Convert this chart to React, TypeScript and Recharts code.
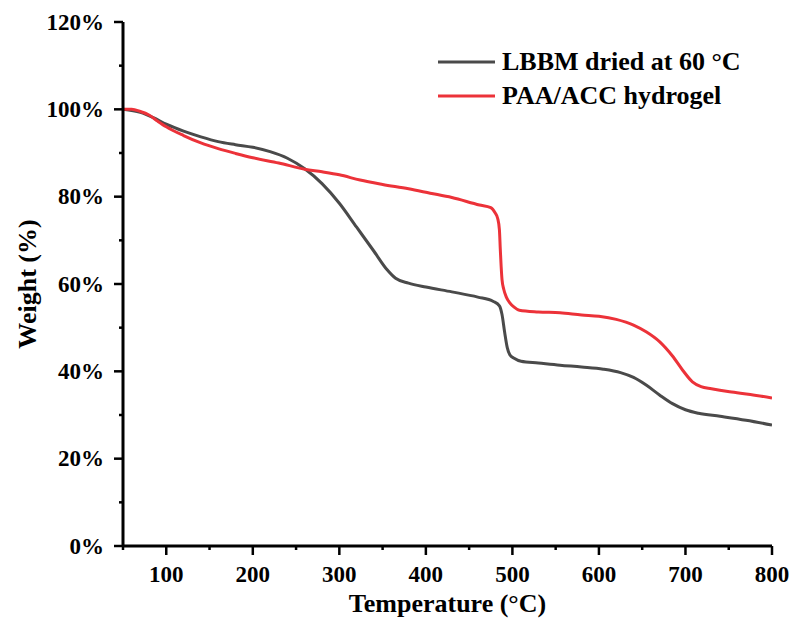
import { LineChart, Line, XAxis, YAxis, Legend } from 'recharts';

const lbbmTemp = [50, 70, 85, 100, 120, 140, 160, 180, 200, 220, 240, 260, 280, 300, 320, 340, 355, 365, 380, 400, 430, 460, 478, 485, 488, 491, 494, 497, 502, 510, 530, 555, 580, 605, 625, 640, 655, 670, 685, 700, 715, 740, 770, 800];
const lbbmWeight = [100, 99.3, 98.1, 96.6, 95, 93.7, 92.6, 91.9, 91.3, 90.3, 88.8, 86.4, 83, 78.5, 73, 67.5, 63.3, 61.3, 60.2, 59.3, 58.2, 57, 56, 55, 53, 49, 45.5, 43.8, 43, 42.3, 41.9, 41.4, 41, 40.5, 39.7, 38.6, 36.8, 34.6, 32.6, 31.2, 30.4, 29.7, 28.8, 27.7];

const paaTemp = [50, 60, 70, 80, 90, 100, 120, 140, 160, 180, 200, 230, 260, 280, 300, 324, 350, 380, 405, 430, 462, 475, 480, 483, 485, 486, 487, 488, 490, 493, 497, 502, 508, 530, 555, 580, 600, 620, 640, 655, 670, 685, 697, 708, 718, 730, 751, 775, 800];
const paaWeight = [100, 100, 99.5, 98.7, 97.3, 96, 94, 92.3, 91, 89.9, 88.9, 87.7, 86.3, 85.7, 85, 83.8, 82.8, 81.8, 80.8, 79.8, 78.1, 77.5, 76.3, 75, 72.4, 68, 64, 61, 58.8, 57, 55.7, 54.7, 54, 53.6, 53.4, 52.9, 52.6, 51.9, 50.6, 49, 46.8, 43.5, 40.2, 37.6, 36.5, 36, 35.3, 34.7, 33.9];

const xTicks = [50, 100, 150, 200, 250, 300, 350, 400, 450, 500, 550, 600, 650, 700, 750, 800];
const yTicks = [0, 10, 20, 30, 40, 50, 60, 70, 80, 90, 100, 110, 120];

const series = [
  { name: 'LBBM dried at 60 °C', color: '#4a4a4a', data: lbbmTemp.map((t, i) => ({ t, w: lbbmWeight[i] })) },
  { name: 'PAA/ACC hydrogel', color: '#ec3239', data: paaTemp.map((t, i) => ({ t, w: paaWeight[i] })) },
];

const FONT = '"Liberation Serif", "Times New Roman", serif';

function YTick(props: any) {
  const { x, y, payload } = props;
  const major = payload.value % 20 === 0;
  return (
    <g>
      <line x1={x} x2={x - (major ? 9 : 4)} y1={y} y2={y} stroke="#000" strokeWidth={2.5} />
      {major && (
        <text x={x - 19} y={y + 7.5} textAnchor="end" fontFamily={FONT} fontWeight="bold" fontSize={23} fill="#000">
          {`${payload.value}%`}
        </text>
      )}
    </g>
  );
}

function XTick(props: any) {
  const { x, y, payload } = props;
  const major = payload.value % 100 === 0;
  return (
    <g>
      <line x1={x} x2={x} y1={y} y2={y + (major ? 9 : 4)} stroke="#000" strokeWidth={2.5} />
      {major && (
        <text x={x} y={y + 36} textAnchor="middle" fontFamily={FONT} fontWeight="bold" fontSize={23} fill="#000">
          {payload.value}
        </text>
      )}
    </g>
  );
}

function LegendBox() {
  return (
    <svg width={340} height={80}>
      {series.map((s, i) => (
        <g key={s.name}>
          <line x1={8} x2={65} y1={22 + i * 34} y2={22 + i * 34} stroke={s.color} strokeWidth={3} />
          <text x={72} y={30 + i * 34} fontFamily={FONT} fontWeight="bold" fontSize={26} fill="#000">
            {s.name}
          </text>
        </g>
      ))}
    </svg>
  );
}

export default function App() {
  return (
    <div style={{ position: 'absolute', left: 0, top: 0, background: '#fff' }}>
      <LineChart width={795} height={632} margin={{ top: 22, right: 23, left: 0, bottom: 0 }}>
        <XAxis
          dataKey="t"
          type="number"
          domain={[50, 800]}
          ticks={xTicks}
          interval={0}
          height={86}
          tickSize={0}
          tickMargin={0}
          tick={<XTick />}
          axisLine={{ stroke: '#000', strokeWidth: 3 }}
          allowDataOverflow
          label={{
            content: (p: any) => (
              <text
                x={p.viewBox.x + p.viewBox.width / 2}
                y={p.viewBox.y + 66}
                textAnchor="middle"
                fontFamily={FONT}
                fontWeight="bold"
                fontSize={26}
                fill="#000"
              >
                Temperature (°C)
              </text>
            ),
          }}
        />
        <XAxis
          xAxisId="top"
          orientation="top"
          dataKey="t"
          type="number"
          domain={[50, 800]}
          height={0}
          tick={false}
          tickLine={false}
          axisLine={{ stroke: '#000', strokeWidth: 3 }}
        />
        <YAxis
          type="number"
          domain={[0, 120]}
          ticks={yTicks}
          interval={0}
          width={123}
          tickSize={0}
          tickMargin={0}
          tick={<YTick />}
          axisLine={{ stroke: '#000', strokeWidth: 3 }}
          allowDataOverflow
          label={{
            content: (p: any) => {
              const cx = p.viewBox.x + 27;
              const cy = p.viewBox.y + p.viewBox.height / 2;
              return (
                <text
                  x={cx}
                  y={cy}
                  transform={`rotate(-90, ${cx}, ${cy})`}
                  textAnchor="middle"
                  dominantBaseline="central"
                  fontFamily={FONT}
                  fontWeight="bold"
                  fontSize={26}
                  fill="#000"
                >
                  Weight (%)
                </text>
              );
            },
          }}
        />
        <YAxis
          yAxisId="right"
          orientation="right"
          type="number"
          domain={[0, 120]}
          width={0}
          tick={false}
          tickLine={false}
          axisLine={{ stroke: '#000', strokeWidth: 3 }}
        />
        <Legend
          layout="vertical"
          align="center"
          verticalAlign="middle"
          wrapperStyle={{ top: 40, left: 430, width: 340 }}
          content={() => <LegendBox />}
        />
        {series.map((s) => (
          <Line
            key={s.name}
            data={s.data}
            dataKey="w"
            name={s.name}
            type="monotone"
            stroke={s.color}
            strokeWidth={3}
            dot={false}
            activeDot={false}
            isAnimationActive={false}
          />
        ))}
      </LineChart>
    </div>
  );
}
